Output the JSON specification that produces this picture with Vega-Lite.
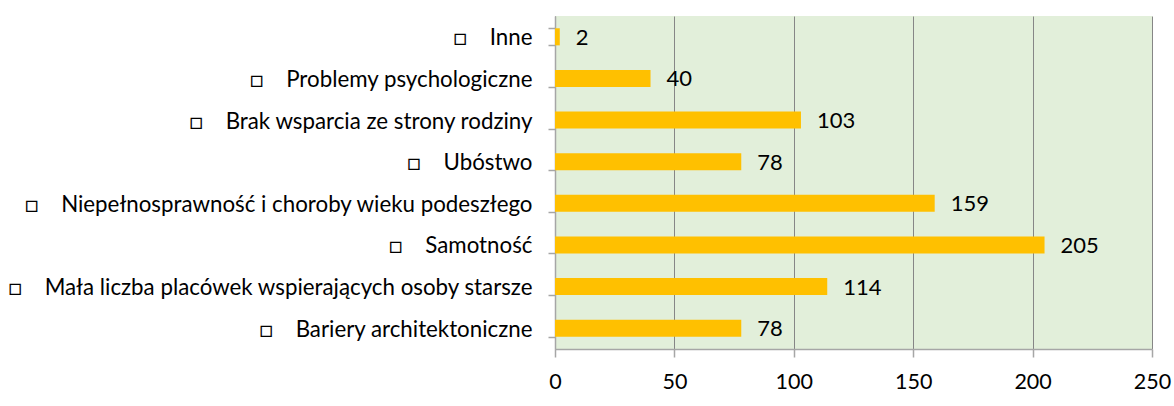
{
  "$schema": "https://vega.github.io/schema/vega-lite/v6.json",
  "autosize": {"type": "none"},
  "width": 597,
  "height": 333,
  "padding": {"left": 555, "top": 16, "right": 22, "bottom": 57},
  "background": "#ffffff",
  "config": {
    "view": {"fill": "#E2EFDA", "stroke": null},
    "font": "Lato"
  },
  "data": {
    "values": [
      {"kategoria": "Inne", "liczba": 2},
      {"kategoria": "Problemy psychologiczne", "liczba": 40},
      {"kategoria": "Brak wsparcia ze strony rodziny", "liczba": 103},
      {"kategoria": "Ubóstwo", "liczba": 78},
      {"kategoria": "Niepełnosprawność i choroby wieku podeszłego", "liczba": 159},
      {"kategoria": "Samotność", "liczba": 205},
      {"kategoria": "Mała liczba placówek wspierających osoby starsze", "liczba": 114},
      {"kategoria": "Bariery architektoniczne", "liczba": 78}
    ]
  },
  "encoding": {
    "y": {
      "field": "kategoria",
      "type": "nominal",
      "sort": null,
      "scale": {"paddingInner": 0.59, "paddingOuter": 0.295},
      "axis": {
        "title": null,
        "tickBand": "extent",
        "labelExpr": "datum.label ? '□\u00a0\u00a0\u00a0\u00a0' + datum.label : ''",
        "labelFont": "Lato",
        "labelFontSize": 22.3,
        "labelColor": "#000000",
        "labelLimit": 0,
        "labelPadding": 16,
        "labelOffset": 1,
        "tickSize": 7,
        "tickColor": "#A6A6A6",
        "domainColor": "#A6A6A6",
        "domainWidth": 1.5,
        "tickWidth": 1.5
      }
    },
    "x": {
      "field": "liczba",
      "type": "quantitative",
      "scale": {"domain": [0, 250], "nice": false},
      "axis": {
        "title": null,
        "values": [0, 50, 100, 150, 200, 250],
        "grid": true,
        "gridColor": "#868686",
        "gridWidth": 1,
        "labelFont": "Lato",
        "labelFontSize": 21.5,
        "labelColor": "#000000",
        "labelPadding": 14,
        "tickSize": 8,
        "tickColor": "#A6A6A6",
        "domainColor": "#A6A6A6",
        "domainWidth": 1.5,
        "tickWidth": 1.5,
        "labelFlush": false
      }
    }
  },
  "layer": [
    {"mark": {"type": "bar", "color": "#FFC000"}},
    {
      "mark": {"type": "text", "align": "left", "baseline": "middle", "dx": 16, "dy": 1, "fontSize": 22, "font": "Lato", "color": "#000000"},
      "encoding": {"text": {"field": "liczba", "type": "quantitative"}}
    }
  ]
}
